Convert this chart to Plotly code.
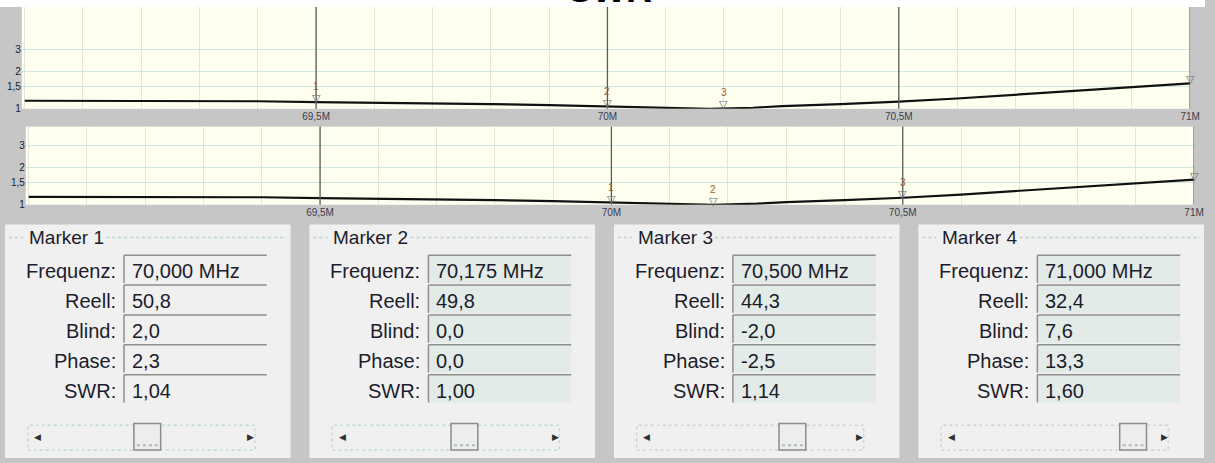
import numpy as np
import plotly.graph_objects as go

W, H = 1215, 463

# ---------------- data ----------------
freq_mhz = [69.0, 69.1, 69.2, 69.3, 69.4, 69.5, 69.6, 69.7, 69.8, 69.9, 70.0,
            70.1, 70.175, 70.25, 70.3, 70.4, 70.5, 70.6, 70.7, 70.8, 70.9, 71.0]
swr = [1.16, 1.16, 1.16, 1.16, 1.15, 1.13, 1.12, 1.10, 1.09, 1.07, 1.04,
       1.02, 1.00, 1.02, 1.05, 1.09, 1.14, 1.21, 1.30, 1.39, 1.48, 1.60]

x_tick_vals = [69.5, 70.0, 70.5, 71.0]
x_tick_text = ["69,5M", "70M", "70,5M", "71M"]
y_tick_vals = [1, 1.5, 2, 3]
y_tick_text = ["1", "1,5", "2", "3"]

top_lines = [69.5, 70.0, 70.5, 71.0]
top_markers = [69.5, 70.0, 70.2, 71.0]
top_marker_labels = ["1", "2", "3", ""]
bottom_lines = [69.5, 70.0, 70.5, 71.0]
bottom_markers = [70.0, 70.175, 70.5, 71.0]
bottom_marker_labels = ["1", "2", "3", ""]

panel_titles = ["Marker 1", "Marker 2", "Marker 3", "Marker 4"]
field_names = ["Frequenz:", "Reell:", "Blind:", "Phase:", "SWR:"]
m_freq_text = ["70,000 MHz", "70,175 MHz", "70,500 MHz", "71,000 MHz"]
m_reell = ["50,8", "49,8", "44,3", "32,4"]
m_blind = ["2,0", "0,0", "-2,0", "7,6"]
m_phase = ["2,3", "0,0", "-2,5", "13,3"]
m_swr = ["1,04", "1,00", "1,14", "1,60"]
m_freq_num = [70.0, 70.175, 70.5, 71.0]

# ---------------- helpers ----------------
def px(x):
    return x / W

def py(y):
    return 1 - y / H

FONT = "Liberation Sans, Arial, sans-serif"
GRAY_BG = "#C6C6C6"
PANEL_BG = "#F0F0F0"
TEXT_C = "#1C1C2C"

fig = go.Figure()

fig.add_trace(go.Scatter(x=freq_mhz, y=swr, mode="lines", xaxis="x", yaxis="y",
                         line=dict(color="#111111", width=2.2), showlegend=False,
                         hoverinfo="skip"))
fig.add_trace(go.Scatter(x=freq_mhz, y=swr, mode="lines", xaxis="x2", yaxis="y2",
                         line=dict(color="#111111", width=2.2), showlegend=False,
                         hoverinfo="skip"))

xgrid = "#E4E4D8"
ygrid = "#CDE8DE"
common_x = dict(range=[68.995, 71.0], tickvals=x_tick_vals, ticktext=x_tick_text,
                showgrid=True, gridcolor=xgrid, gridwidth=1, zeroline=False,
                showline=False, ticks="", fixedrange=True,
                tickfont=dict(family=FONT, size=10, color="#3C3C50"),
                minor=dict(tickmode="linear", tick0=69.0, dtick=0.1, showgrid=True,
                           gridcolor=xgrid, gridwidth=1, ticks=""))
common_y = dict(type="log", tickvals=y_tick_vals, ticktext=y_tick_text,
                showgrid=True, gridcolor=ygrid, gridwidth=1, zeroline=False,
                showline=False, ticks="", fixedrange=True,
                tickfont=dict(family=FONT, size=10, color="#202030"))

layout = dict(
    autosize=True, margin=dict(l=0, r=0, t=0, b=0, pad=0),
    paper_bgcolor=GRAY_BG, plot_bgcolor="#FFFFF0", showlegend=False,
    xaxis=dict(common_x, domain=[px(22), px(1200)], anchor="y"),
    yaxis=dict(common_y, domain=[py(110), py(7)], range=[0, 0.817], anchor="x"),
    xaxis2=dict(common_x, domain=[px(26), px(1204)], anchor="y2"),
    yaxis2=dict(common_y, domain=[py(207), py(128)], range=[0, 0.632], anchor="x2"),
)
fig.update_layout(**layout)

shapes = []
annotations = []

# white strip on top + title
shapes.append(dict(type="rect", xref="paper", yref="paper", x0=0, x1=1,
                   y0=py(7), y1=1, fillcolor="white", line=dict(width=0), layer="below"))
annotations.append(dict(text="<b>SWR</b>", xref="paper", yref="paper", x=px(615),
                        y=py(12), xanchor="center", yanchor="bottom", showarrow=False,
                        font=dict(family=FONT, size=36, color="black")))

# marker lines and marker symbols
for xa, ya, lines, mks, labels in [("x", "y", top_lines, top_markers, top_marker_labels),
                                   ("x2", "y2", bottom_lines, bottom_markers, bottom_marker_labels)]:
    for f in lines:
        shapes.append(dict(type="line", xref=xa, yref=ya + " domain", x0=f, x1=f, y0=0, y1=1,
                           line=dict(color="#5A5A5A", width=1.3), layer="above"))
    sv = np.interp(mks, freq_mhz, swr)
    for f, s, lab in zip(mks, sv, labels):
        annotations.append(dict(text="\u25BD", xref=xa, yref=ya, x=f, y=float(np.log10(s)),
                                xanchor="center", yanchor="bottom", yshift=-5, showarrow=False,
                                font=dict(family="DejaVu Sans", size=11, color="#6E6E6E")))
        if lab:
            annotations.append(dict(text=lab, xref=xa, yref=ya, x=f, y=float(np.log10(s)),
                                    xanchor="center", yanchor="bottom", yshift=8, showarrow=False,
                                    font=dict(family=FONT, size=10, color="#9A5B2E")))

# ---------------- marker panels ----------------
row_top0 = 258
row_step = 30.2
box_h = 28
for i in range(4):
    tx = 27 + i * 307
    # panel background
    shapes.append(dict(type="rect", xref="paper", yref="paper", x0=px(tx - 22), x1=px(tx + 266),
                       y0=0, y1=py(227), fillcolor=PANEL_BG, line=dict(width=0), layer="below"))
    # group box dotted border (top)
    for xa0, xa1 in [(tx - 18, tx - 4), (tx + 80, tx + 262)]:
        shapes.append(dict(type="line", xref="paper", yref="paper", x0=px(xa0), x1=px(xa1),
                           y0=py(240), y1=py(240),
                           line=dict(color="#B8D4CC", width=1.5, dash="dot"), layer="below"))
    annotations.append(dict(text=panel_titles[i], xref="paper", yref="paper", x=px(tx),
                            y=py(240), xanchor="left", yanchor="middle", showarrow=False,
                            font=dict(family=FONT, size=19, color=TEXT_C)))
    values = [m_freq_text[i], m_reell[i], m_blind[i], m_phase[i], m_swr[i]]
    box_fill = PANEL_BG if i == 0 else "#E2EBE7"
    for r, (name, val) in enumerate(zip(field_names, values)):
        top = row_top0 + r * row_step
        bx0, bx1 = tx + 98, tx + 242
        shapes.append(dict(type="rect", xref="paper", yref="paper", x0=px(bx0), x1=px(bx1),
                           y0=py(top + box_h), y1=py(top), fillcolor=box_fill,
                           line=dict(width=0), layer="below"))
        shapes.append(dict(type="line", xref="paper", yref="paper", x0=px(bx0), x1=px(bx1),
                           y0=py(top), y1=py(top), line=dict(color="#8E8E8E", width=1.5),
                           layer="below"))
        shapes.append(dict(type="line", xref="paper", yref="paper", x0=px(bx0), x1=px(bx0),
                           y0=py(top), y1=py(top + box_h), line=dict(color="#8E8E8E", width=1.5),
                           layer="below"))
        cy = top + 16
        annotations.append(dict(text=name, xref="paper", yref="paper", x=px(tx + 92),
                                y=py(cy), xanchor="right", yanchor="middle", showarrow=False,
                                font=dict(family=FONT, size=20, color=TEXT_C)))
        annotations.append(dict(text=val, xref="paper", yref="paper", x=px(tx + 104),
                                y=py(cy), xanchor="left", yanchor="middle", showarrow=False,
                                font=dict(family=FONT, size=20, color=TEXT_C)))
    # scrollbar
    shapes.append(dict(type="rect", xref="paper", yref="paper", x0=px(tx + 1), x1=px(tx + 230),
                       y0=py(455), y1=py(430), fillcolor="rgba(0,0,0,0)",
                       line=dict(color="#C4DAD3", width=1.5, dash="dot"), layer="below"))
    th0 = tx + 108 + (m_freq_num[i] - 70.0) * 73
    shapes.append(dict(type="rect", xref="paper", yref="paper", x0=px(th0), x1=px(th0 + 27),
                       y0=py(455), y1=py(428), fillcolor="#EDEDED",
                       line=dict(color="#8C8C8C", width=1.5), layer="below"))
    shapes.append(dict(type="line", xref="paper", yref="paper", x0=px(th0 + 3), x1=px(th0 + 24),
                       y0=py(450), y1=py(450), line=dict(color="#A8BDB6", width=2, dash="dot"),
                       layer="below"))
    annotations.append(dict(text="\u25C0", xref="paper", yref="paper", x=px(tx + 11),
                            y=py(442), xanchor="center", yanchor="middle", showarrow=False,
                            font=dict(family="DejaVu Sans", size=9, color="#303030")))
    annotations.append(dict(text="\u25B6", xref="paper", yref="paper", x=px(tx + 226),
                            y=py(442), xanchor="center", yanchor="middle", showarrow=False,
                            font=dict(family="DejaVu Sans", size=9, color="#303030")))

fig.update_layout(shapes=shapes, annotations=annotations)
fig.write_html("out.html", config=dict(displayModeBar=False, responsive=True),
               default_width="100vw", default_height="100vh",
               post_script="document.body.style.margin='0';document.body.style.overflow='hidden';"
                           "window.dispatchEvent(new Event('resize'));")
